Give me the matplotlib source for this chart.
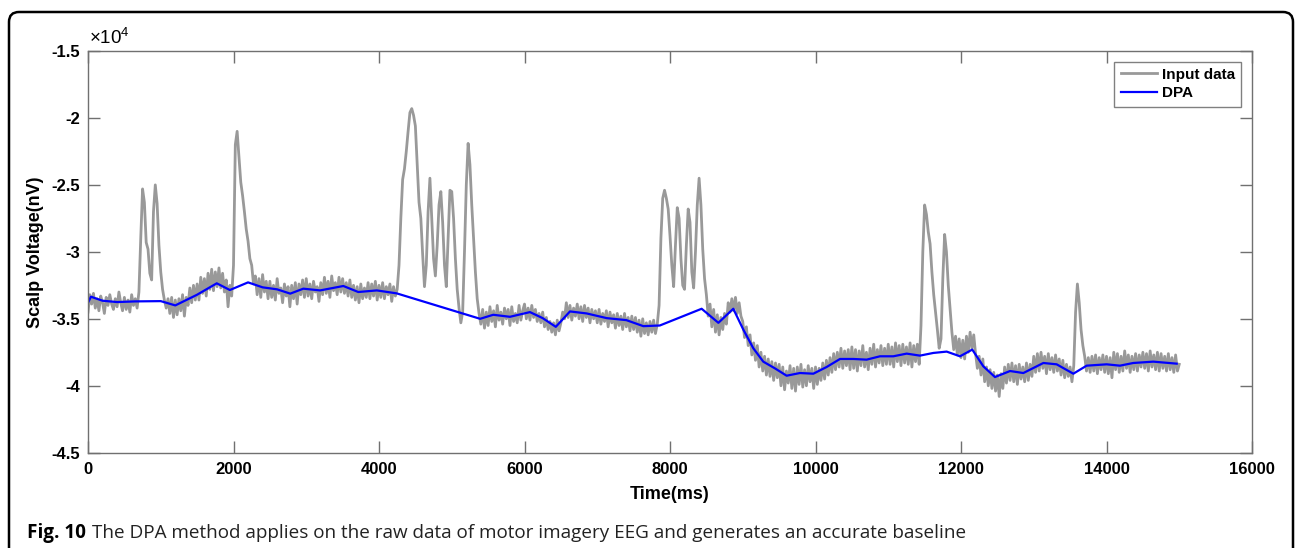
import numpy as np
import matplotlib
matplotlib.use("Agg")
import matplotlib.pyplot as plt
from matplotlib.patches import FancyBboxPatch
from matplotlib.transforms import IdentityTransform

# ---------------- data ----------------
# Input data sampled every 25 ms (values in units of 1e3 nV); one row = 500 ms
input_time_ms = np.arange(0, 15001, 25)
input_kv = [
    -34.5, -33.2, -33.9, -33.1, -34.2, -33.5, -34.4, -33.3, -33.8, -34.6, -33.4, -34.0, -33.2, -33.9, -34.3, -33.5, -34.1, -33.0, -33.8, -34.4,
    -33.4, -34.3, -33.6, -34.5, -33.2, -34.0, -33.5, -34.2, -33.0, -29.0, -25.3, -26.3, -29.3, -29.8, -31.6, -32.1, -27.0, -25.0, -26.4, -29.5,
    -31.5, -32.8, -33.6, -34.2, -33.5, -34.6, -33.4, -34.9, -33.6, -34.7, -33.5, -34.4, -33.2, -34.8, -33.4, -34.0, -32.7, -33.8, -32.5, -33.6,
    -32.4, -33.6, -31.9, -33.1, -32.0, -33.3, -31.6, -32.8, -31.3, -32.9, -31.5, -32.6, -31.2, -32.7, -31.6, -33.0, -32.1, -34.1, -32.5, -33.3,
    -31.0, -22.0, -21.0, -22.9, -24.8, -25.8, -27.0, -28.3, -29.2, -30.5, -31.0, -32.4, -31.8, -33.2, -32.0, -33.4, -31.7, -33.0, -32.2, -33.5,
    -32.2, -33.4, -32.5, -33.6, -32.0, -33.1, -32.7, -33.8, -32.4, -33.3, -32.6, -34.1, -32.5, -33.5, -32.3, -33.9, -32.4, -33.2, -32.1, -33.4,
    -32.0, -33.3, -32.4, -33.5, -32.2, -33.0, -32.6, -33.7, -32.3, -33.2, -31.9, -33.1, -32.2, -33.4, -31.8, -32.9, -32.3, -33.2, -31.9, -33.0,
    -32.0, -33.1, -32.3, -33.3, -32.1, -33.4, -32.5, -33.6, -32.6, -33.8, -32.4, -33.5, -32.7, -33.4, -32.3, -33.5, -32.4, -33.3, -32.2, -33.6,
    -32.5, -33.4, -32.3, -33.5, -32.6, -33.2, -32.4, -33.7, -32.6, -33.3, -32.8, -31.0, -27.5, -24.6, -23.8, -22.5, -21.0, -19.6, -19.3, -19.8,
    -20.6, -23.5, -26.3, -27.5, -30.2, -32.6, -31.0, -27.0, -24.5, -27.5, -30.5, -31.8, -29.5, -26.5, -25.5, -27.8, -31.0, -32.6, -29.0, -25.4,
    -25.5, -27.5, -30.5, -32.8, -34.2, -35.3, -34.5, -30.0, -25.0, -21.9, -23.5, -26.5, -29.0, -31.5, -33.5, -34.6, -35.4, -34.3, -35.7, -34.5,
    -35.5, -34.1, -35.2, -34.4, -35.6, -34.0, -35.1, -34.5, -35.4, -34.2, -35.0, -34.3, -35.5, -34.1, -35.2, -34.6, -35.3, -34.0, -35.1, -34.4,
    -33.9, -35.0, -34.2, -35.1, -34.0, -34.9, -34.3, -35.2, -34.6, -35.3, -34.5, -35.6, -34.9, -35.8, -35.2, -36.0, -35.3, -36.2, -35.1, -35.9,
    -35.3, -34.5, -35.0, -33.8, -34.9, -34.0, -35.1, -34.2, -34.8, -33.9, -35.0, -34.1, -35.2, -34.0, -34.9, -34.2, -35.3, -34.3, -35.0, -34.4,
    -35.3, -34.3, -35.4, -34.6, -35.2, -34.4, -35.6, -34.5, -35.3, -34.7, -35.7, -34.6, -35.5, -34.8, -35.8, -34.6, -35.6, -34.9, -35.9, -34.8,
    -35.8, -34.9, -36.0, -35.1, -36.3, -35.0, -36.1, -35.3, -36.2, -35.2, -36.0, -35.1, -36.1, -35.4, -34.0, -29.0, -26.0, -25.4, -26.0, -26.8,
    -28.8, -31.0, -32.6, -29.5, -26.7, -27.5, -30.5, -32.5, -32.8, -29.5, -26.8, -27.8, -31.5, -32.7, -30.0, -26.5, -24.5, -26.5, -29.8, -32.0,
    -33.2, -34.8, -33.9, -35.6, -34.3, -36.0, -34.7, -36.2, -34.9, -35.8, -34.6, -35.4, -33.8, -34.5, -33.5, -34.4, -33.4, -34.6, -33.8, -34.8,
    -35.2, -36.4, -35.6, -37.0, -36.2, -37.7, -36.8, -38.1, -37.0, -38.6, -37.5, -38.9, -37.8, -39.2, -38.0, -39.3, -38.2, -39.6, -38.3, -39.4,
    -38.4, -40.0, -38.6, -40.3, -38.9, -39.8, -38.5, -40.2, -38.7, -40.4, -38.6, -39.9, -38.4, -40.1, -38.8, -40.0, -38.5, -39.7, -38.7, -40.2,
    -38.6, -39.9, -38.7, -39.6, -38.3, -39.5, -38.1, -39.2, -37.9, -39.0, -37.6, -38.8, -37.5, -38.6, -37.2, -38.7, -37.4, -38.5, -37.3, -38.8,
    -37.1, -38.7, -37.3, -38.9, -37.4, -38.5, -37.0, -38.6, -37.5, -38.8, -37.2, -38.4, -36.9, -38.6, -37.3, -38.3, -37.0, -38.5, -37.2, -38.4,
    -36.9, -38.4, -37.1, -38.6, -36.8, -38.2, -37.0, -38.5, -36.9, -38.3, -37.1, -38.4, -36.8, -38.6, -37.0, -38.2, -36.9, -38.4, -35.5, -30.0,
    -26.5, -27.2, -28.5, -29.4, -31.5, -33.2, -34.5, -35.8, -37.2, -36.5, -32.0, -28.7, -30.0, -32.5, -34.2, -36.0, -37.3, -36.3, -37.7, -36.5,
    -37.9, -36.6, -38.0, -36.3, -37.5, -36.0, -37.2, -36.2, -37.6, -38.7, -37.8, -39.2, -38.0, -39.7, -38.6, -40.0, -38.8, -40.2, -39.0, -40.4,
    -39.2, -40.8, -39.1, -40.2, -38.6, -39.8, -38.4, -39.6, -38.3, -39.7, -38.5, -39.9, -38.4, -39.5, -38.6, -39.7, -38.3, -39.6, -38.4, -39.3,
    -37.8, -39.0, -37.6, -38.9, -37.5, -38.7, -37.8, -39.1, -37.6, -38.8, -37.9, -39.0, -37.7, -38.9, -38.0, -39.2, -38.1, -39.4, -38.4, -39.3,
    -38.6, -39.7, -38.5, -34.5, -32.4, -33.8, -35.8, -37.0, -37.8, -38.9, -37.9, -39.0, -37.8, -38.9, -37.7, -39.1, -37.9, -38.8, -37.7, -39.0,
    -37.8, -39.1, -37.9, -39.4, -37.5, -38.8, -37.6, -39.0, -37.8, -38.9, -37.4, -38.7, -37.7, -39.0, -37.8, -38.8, -37.6, -38.9, -37.7, -38.6,
    -37.5, -38.7, -37.6, -38.9, -37.4, -38.6, -37.7, -38.8, -37.5, -38.9, -37.6, -38.7, -37.8, -38.9, -37.6, -38.8, -37.9, -39.0, -37.7, -38.9,
    -38.4,
]

# DPA baseline (values in units of 1e3 nV)
dpa_time_ms = [
    0, 40, 200, 400, 650, 1000, 1200, 1500, 1770, 1950, 2200, 2400, 2600,
    2780, 2960, 3190, 3510, 3715, 3970, 4243, 5390, 5570, 5800, 6075, 6250,
    6430, 6625, 6855, 7130, 7400, 7634, 7860, 8435, 8665, 8870, 9007, 9145,
    9282, 9442, 9603, 9786, 9970, 10153, 10337, 10520, 10703, 10886, 11070,
    11253, 11436, 11620, 11803, 11986, 12155, 12307, 12467, 12674, 12857,
    13132, 13315, 13544, 13727, 14002, 14185, 14368, 14643, 14965,
]
dpa_kv = [
    -33.8, -33.35, -33.65, -33.75, -33.7, -33.68, -34.0, -33.2, -32.35,
    -32.85, -32.28, -32.65, -32.8, -33.12, -32.75, -32.88, -32.55, -33.0,
    -32.88, -33.1, -35.0, -34.7, -34.85, -34.5, -34.95, -35.6, -34.45,
    -34.6, -34.95, -35.1, -35.55, -35.5, -34.25, -35.3, -34.25, -35.8,
    -37.2, -38.2, -38.7, -39.25, -39.05, -39.1, -38.6, -38.0, -38.0,
    -38.05, -37.8, -37.8, -37.6, -37.75, -37.55, -37.45, -37.8, -37.3,
    -38.55, -39.35, -38.9, -39.05, -38.3, -38.4, -39.1, -38.5, -38.4,
    -38.5, -38.3, -38.2, -38.35,
]

series_labels = ["Input data", "DPA"]
xticks = [0, 2000, 4000, 6000, 8000, 10000, 12000, 14000, 16000]
xticklabels = ["0", "2000", "4000", "6000", "8000", "10000", "12000", "14000", "16000"]
yticks = [-45000, -40000, -35000, -30000, -25000, -20000, -15000]
yticklabels = ["-4.5", "-4", "-3.5", "-3", "-2.5", "-2", "-1.5"]
x_label = "Time(ms)"
y_label = "Scalp Voltage(nV)"
caption_bold = "Fig. 10"
caption_rest = "The DPA method applies on the raw data of motor imagery EEG and generates an accurate baseline"

# ---------------- figure ----------------
W, H = 1295, 548
fig = plt.figure(figsize=(W / 100, H / 100), dpi=100)
fig.patch.set_facecolor("white")

AX_L, AX_R, AX_T, AX_B = 88, 1252, 51, 452.7
ax = fig.add_axes([AX_L / W, 1 - AX_B / H, (AX_R - AX_L) / W, (AX_B - AX_T) / H])

input_nv = np.array(input_kv) * 1000.0
dpa_nv = np.array(dpa_kv) * 1000.0

ax.plot(input_time_ms, input_nv, color="#999999", lw=2.0, label=series_labels[0])
ax.plot(dpa_time_ms, dpa_nv, color="#0000ff", lw=1.6, label=series_labels[1])

ax.set_xlim(0, 16000)
ax.set_ylim(-45000, -15000)
ax.set_xticks(xticks)
ax.set_xticklabels(xticklabels)
ax.set_yticks(yticks)
ax.set_yticklabels(yticklabels)

for lab in ax.get_xticklabels() + ax.get_yticklabels():
    lab.set_fontfamily("Liberation Sans")
    lab.set_fontweight("bold")
    lab.set_fontsize(12)

spine_col = "#707070"
for s in ax.spines.values():
    s.set_color(spine_col)
    s.set_linewidth(1.0)
ax.tick_params(axis="both", direction="in", length=8.5, width=1.0, color=spine_col,
               top=True, right=True, labelcolor="black")
ax.tick_params(axis="x", pad=7)
ax.tick_params(axis="y", pad=6)

# multiplier text
ax.annotate(r"$\mathregular{\times10^{4}}$", xy=(0, 1), xycoords="axes fraction",
            xytext=(0.5, 2.0), textcoords="offset points", ha="left", va="bottom",
            fontfamily="Liberation Sans", fontsize=13.5)

# axis labels
fig.text(670 / W, 1 - 494.5 / H, x_label, ha="center", va="center",
         fontfamily="Liberation Sans", fontweight="bold", fontsize=13)
fig.text(36 / W, 1 - 252 / H, y_label, ha="center", va="center", rotation=90,
         fontfamily="Liberation Sans", fontweight="bold", fontsize=13)

# legend
leg = ax.legend(loc="upper right", bbox_to_anchor=((1241 - AX_L) / (AX_R - AX_L),
                                                   (AX_B - 61.7) / (AX_B - AX_T)),
                borderaxespad=0, frameon=True, fancybox=False, framealpha=1,
                edgecolor="#808080", handlelength=2.4, handletextpad=0.3,
                labelspacing=0.3, borderpad=0.4,
                prop=dict(family="Liberation Sans", weight="bold", size=11))
leg.get_frame().set_linewidth(1.0)

# rounded outer frame
frame = FancyBboxPatch((9, -30), 1284, 536 + 30, boxstyle="round,pad=0,rounding_size=10",
                       transform=IdentityTransform(), fill=False, edgecolor="black",
                       linewidth=1.8)
fig.add_artist(frame)

# caption
renderer = fig.canvas.get_renderer()
cap_x0, cap_base, cap_target_w = 27, 538.3, 932
size = 13.0
t1 = fig.text(cap_x0 / W, 1 - cap_base / H, caption_bold, ha="left", va="baseline",
              fontfamily="Open Sans", fontweight="bold", fontsize=size)
t2 = fig.text(0, 1 - cap_base / H, caption_rest, ha="left", va="baseline",
              fontfamily="Open Sans", fontsize=size, color="#222222")


def place_caption():
    bb1 = t1.get_window_extent(renderer)
    gap = 0.3 * t1.get_fontsize() * 100 / 72
    t2.set_x((bb1.x1 + gap) / W)
    bb2 = t2.get_window_extent(renderer)
    return bb2.x1 - bb1.x0


width = place_caption()
size = size * cap_target_w / width
t1.set_fontsize(size)
t2.set_fontsize(size)
place_caption()

fig.savefig("out.png", dpi=100, facecolor="white")
